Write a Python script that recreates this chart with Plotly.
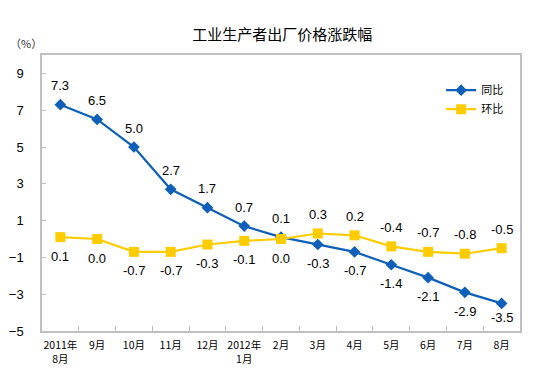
import plotly.graph_objects as go

months = ["2011年<br>8月", "9月", "10月", "11月", "12月", "2012年<br>1月", "2月",
          "3月", "4月", "5月", "6月", "7月", "8月"]
yoy = [7.3, 6.5, 5.0, 2.7, 1.7, 0.7, 0.1, -0.3, -0.7, -1.4, -2.1, -2.9, -3.5]
mom = [0.1, 0.0, -0.7, -0.7, -0.3, -0.1, 0.0, 0.3, 0.2, -0.4, -0.7, -0.8, -0.5]
y_ticks = [-5, -3, -1, 1, 3, 5, 7, 9]

blue = "#0D5FB8"
yellow = "#FFCC00"
x = list(range(len(months)))

fig = go.Figure()
fig.add_trace(go.Scatter(x=x, y=yoy, name="同比", mode="lines+markers",
                         line=dict(color=blue, width=2.2),
                         marker=dict(symbol="diamond", size=9, color=blue)))
fig.add_trace(go.Scatter(x=x, y=mom, name="环比", mode="lines+markers",
                         line=dict(color=yellow, width=2.2),
                         marker=dict(symbol="square", size=10, color=yellow)))

lab_font = dict(size=13, color="#000", family="Liberation Sans")
ann = []
for i in x:
    above_yoy = yoy[i] >= mom[i]
    shift = 19 if above_yoy else -19
    if i == len(x) - 1:
        shift = -14
    ann.append(dict(x=i, y=yoy[i], text=f"{yoy[i]:.1f}", showarrow=False,
                    yshift=shift, font=lab_font))
    ann.append(dict(x=i, y=mom[i], text=f"{mom[i]:.1f}", showarrow=False,
                    yshift=-19 if above_yoy else 19, font=lab_font))
ann.append(dict(xref="paper", yref="paper", x=-0.072, y=1.08, text="（%）",
                showarrow=False, font=dict(size=11, color="#333", family="Noto Sans CJK SC")))

fig.update_layout(
    width=550, height=385,
    margin=dict(l=42, r=30, t=55, b=54),
    paper_bgcolor="white", plot_bgcolor="white",
    title=dict(text="工业生产者出厂价格涨跌幅", x=0.513, xanchor="center",
               y=1 - 35 / 385, yanchor="middle", automargin=False,
               font=dict(size=15, color="#000", family="Noto Sans CJK SC")),
    showlegend=True,
    legend=dict(x=0.835, y=0.925, xanchor="left", yanchor="top",
                bgcolor="rgba(0,0,0,0)", itemwidth=30, tracegroupgap=0,
                font=dict(size=11, color="#000", family="Noto Sans CJK SC")),
    annotations=ann,
    xaxis=dict(range=[-0.5, 12.5], tickvals=x, ticktext=months, automargin=False,
               showgrid=False, zeroline=False,
               showline=True, linecolor="#BFBFBF", linewidth=1.5, mirror=True,
               ticks="", ticklabelstandoff=4,
               tickfont=dict(size=10.5, color="#000", family="Noto Sans CJK SC")),
    yaxis=dict(range=[-5, 10], tickvals=y_ticks, showgrid=False, zeroline=False,
               automargin=False,
               showline=True, linecolor="#BFBFBF", linewidth=1.5, mirror=True,
               ticks="inside", ticklen=4, tickcolor="#BFBFBF",
               ticklabelstandoff=14,
               tickfont=dict(size=13, color="#000", family="Liberation Sans")),
)

fig.update_xaxes(minor=dict(tickvals=[i - 0.5 for i in range(1, len(months))],
                            ticks="inside", ticklen=5, tickcolor="#BFBFBF"))

fig.write_html("out.html", config={"displayModeBar": False},
               post_script="document.body.style.margin='0';")
